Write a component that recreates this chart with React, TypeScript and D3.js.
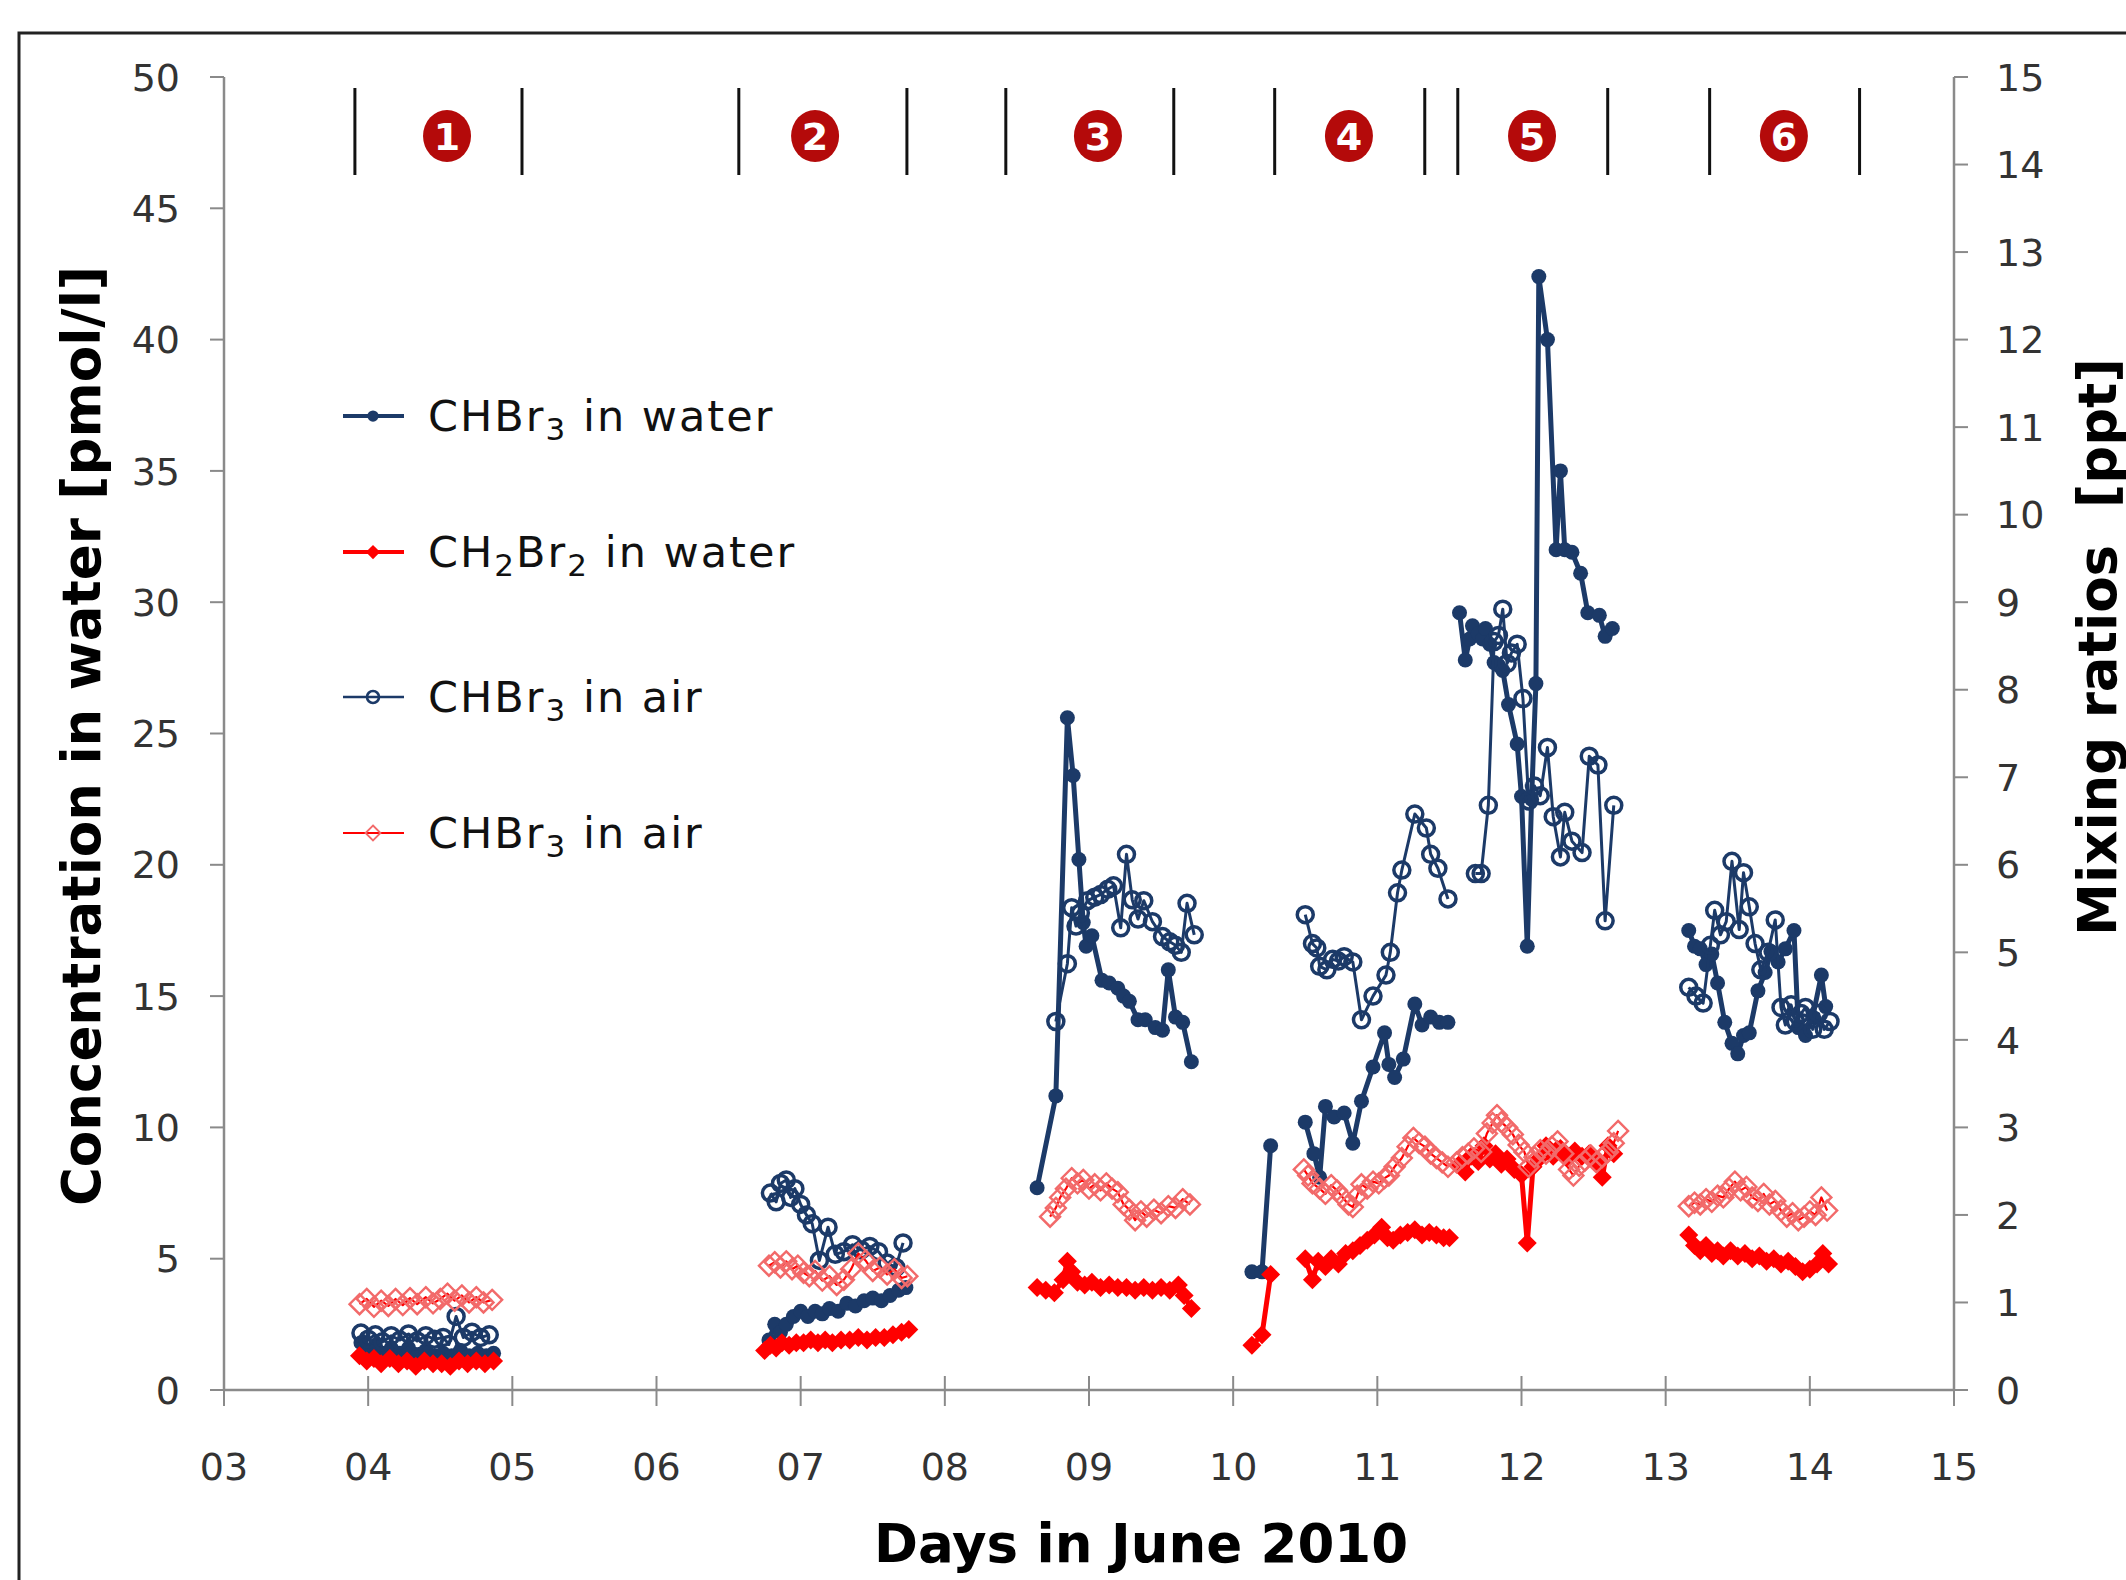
import React from "react";
import * as d3 from "d3";

type Pt = [number, number];

// axis ticks and labels
const xTickLabels = ["03", "04", "05", "06", "07", "08", "09", "10", "11", "12", "13", "14", "15"];
const leftTicks = [0, 5, 10, 15, 20, 25, 30, 35, 40, 45, 50];
const rightTicks = [0, 1, 2, 3, 4, 5, 6, 7, 8, 9, 10, 11, 12, 13, 14, 15];

// measurement periods (day of June) shown at the top
const periodBounds: Pt[] = [
  [3.908, 5.067],
  [6.571, 7.737],
  [8.423, 9.588],
  [10.288, 11.329],
  [11.558, 12.598],
  [13.305, 14.345],
];
const periodBadgeDays = [4.547, 7.1, 9.062, 10.803, 12.073, 13.82];
const periodLabels = ["1", "2", "3", "4", "5", "6"];

// CHBr3 in water [pmol/l] (left axis)
const chbr3Water1: Pt[] = [[3.95,1.8],[4.0,1.5],[4.05,1.7],[4.1,1.4],[4.16,1.6],[4.22,1.4],[4.28,1.6],[4.34,1.3],[4.4,1.5],[4.46,1.3],[4.52,1.4],[4.58,1.3],[4.64,1.5],[4.7,1.3],[4.76,1.4],[4.82,1.3],[4.87,1.4]];
const chbr3Water2: Pt[] = [[6.78,1.9],[6.82,2.5],[6.86,2.2],[6.9,2.5],[6.95,2.8],[7.0,3.0],[7.05,2.8],[7.1,3.0],[7.15,2.9],[7.2,3.1],[7.26,3.0],[7.32,3.3],[7.38,3.2],[7.44,3.4],[7.5,3.5],[7.56,3.4],[7.62,3.6],[7.68,3.8],[7.73,3.9]];
const chbr3Water3: Pt[] = [[8.64,7.7],[8.77,11.2],[8.85,25.6],[8.89,23.4],[8.93,20.2],[8.96,17.8],[8.98,16.9],[9.02,17.3],[9.09,15.6],[9.14,15.5],[9.2,15.3],[9.24,15.0],[9.28,14.8],[9.34,14.1],[9.39,14.1],[9.46,13.8],[9.51,13.7],[9.55,16.0],[9.6,14.2],[9.65,14.0],[9.71,12.5]];
const chbr3Water4a: Pt[] = [[10.13,4.5],[10.2,4.5],[10.26,9.3]];
const chbr3Water4b: Pt[] = [[10.5,10.2],[10.56,9.0],[10.6,8.1],[10.64,10.8],[10.7,10.4],[10.77,10.55],[10.83,9.4],[10.89,11.0],[10.97,12.3],[11.05,13.6],[11.08,12.4],[11.12,11.9],[11.18,12.6],[11.26,14.7],[11.31,13.9],[11.37,14.2],[11.43,14.0],[11.49,14.0]];
const chbr3Water5: Pt[] = [[11.57,29.6],[11.61,27.8],[11.64,28.6],[11.66,29.1],[11.7,28.8],[11.73,28.6],[11.75,29.0],[11.78,28.4],[11.81,27.7],[11.84,27.6],[11.87,27.4],[11.91,26.1],[11.97,24.6],[12.0,22.6],[12.04,16.9],[12.07,22.5],[12.1,26.9],[12.12,42.4],[12.18,40.0],[12.24,32.0],[12.27,35.0],[12.3,32.0],[12.35,31.9],[12.41,31.1],[12.46,29.6],[12.54,29.5],[12.58,28.7],[12.63,29.0]];
const chbr3Water6: Pt[] = [[13.16,17.5],[13.2,16.9],[13.24,16.8],[13.28,16.2],[13.32,16.6],[13.36,15.5],[13.41,14.0],[13.46,13.2],[13.5,12.8],[13.54,13.5],[13.58,13.6],[13.64,15.2],[13.69,15.9],[13.73,16.7],[13.78,16.3],[13.83,16.8],[13.89,17.5],[13.92,13.8],[13.97,13.5],[14.02,14.2],[14.08,15.8],[14.11,14.6]];

// CH2Br2 in water [pmol/l] (left axis)
const ch2br2Water1: Pt[] = [[3.94,1.3],[3.99,1.1],[4.04,1.2],[4.09,1.0],[4.15,1.2],[4.21,1.0],[4.27,1.1],[4.33,0.9],[4.39,1.1],[4.45,1.0],[4.51,1.0],[4.57,0.9],[4.63,1.1],[4.69,1.0],[4.75,1.1],[4.81,1.0],[4.87,1.1]];
const ch2br2Water2: Pt[] = [[6.75,1.5],[6.79,1.7],[6.83,1.6],[6.87,1.8],[6.92,1.7],[6.97,1.8],[7.02,1.8],[7.07,1.9],[7.12,1.8],[7.17,1.9],[7.22,1.8],[7.28,1.9],[7.34,1.9],[7.4,2.0],[7.46,1.9],[7.52,2.0],[7.58,2.0],[7.64,2.1],[7.7,2.2],[7.75,2.3]];
const ch2br2Water3: Pt[] = [[8.64,3.9],[8.7,3.8],[8.76,3.7],[8.82,4.2],[8.85,4.9],[8.88,4.5],[8.92,4.1],[8.97,4.0],[9.02,4.1],[9.08,3.9],[9.14,4.0],[9.2,3.9],[9.26,3.9],[9.32,3.8],[9.38,3.9],[9.44,3.8],[9.5,3.9],[9.56,3.8],[9.62,4.0],[9.66,3.6],[9.71,3.1]];
const ch2br2Water4a: Pt[] = [[10.13,1.7],[10.2,2.1],[10.26,4.4]];
const ch2br2Water4b: Pt[] = [[10.5,5.0],[10.55,4.2],[10.59,4.9],[10.64,4.7],[10.68,5.0],[10.73,4.8],[10.78,5.2],[10.83,5.3],[10.88,5.5],[10.93,5.7],[10.98,5.9],[11.03,6.2],[11.07,5.8],[11.11,5.7],[11.16,5.9],[11.21,6.0],[11.26,6.1],[11.31,5.9],[11.36,6.0],[11.41,5.9],[11.46,5.8],[11.5,5.8]];
const ch2br2Water5: Pt[] = [[11.57,8.6],[11.61,8.3],[11.65,8.9],[11.7,8.7],[11.74,9.3],[11.78,8.8],[11.82,9.0],[11.86,8.6],[11.9,8.8],[11.95,8.4],[12.0,8.2],[12.04,5.6],[12.08,8.5],[12.12,8.8],[12.17,9.3],[12.22,8.9],[12.27,9.2],[12.32,8.8],[12.37,9.1],[12.42,8.9],[12.47,9.0],[12.52,8.7],[12.56,8.1],[12.6,9.3],[12.64,9.0]];
const ch2br2Water6: Pt[] = [[13.16,5.9],[13.2,5.5],[13.24,5.3],[13.28,5.5],[13.32,5.2],[13.36,5.3],[13.4,5.1],[13.45,5.3],[13.5,5.1],[13.55,5.2],[13.6,5.0],[13.65,5.1],[13.7,4.9],[13.75,5.0],[13.8,4.8],[13.85,4.9],[13.9,4.7],[13.95,4.5],[14.0,4.6],[14.05,4.8],[14.09,5.2],[14.13,4.8]];

// CHBr3 in air [ppt] (right axis)
const chbr3Air1: Pt[] = [[3.95,0.65],[4.0,0.58],[4.05,0.63],[4.1,0.55],[4.16,0.62],[4.22,0.57],[4.28,0.64],[4.34,0.56],[4.4,0.62],[4.46,0.58],[4.52,0.6],[4.56,0.52],[4.61,0.84],[4.66,0.6],[4.72,0.66],[4.78,0.6],[4.84,0.63]];
const chbr3Air2: Pt[] = [[6.79,2.25],[6.83,2.15],[6.86,2.36],[6.9,2.4],[6.93,2.2],[6.96,2.3],[7.0,2.12],[7.04,2.0],[7.08,1.9],[7.13,1.48],[7.19,1.86],[7.24,1.55],[7.3,1.58],[7.36,1.66],[7.42,1.6],[7.48,1.64],[7.54,1.58],[7.6,1.45],[7.66,1.4],[7.71,1.68]];
const chbr3Air3: Pt[] = [[8.77,4.21],[8.85,4.87],[8.88,5.51],[8.91,5.3],[8.94,5.45],[8.99,5.59],[9.04,5.63],[9.08,5.66],[9.13,5.72],[9.17,5.76],[9.22,5.28],[9.26,6.12],[9.3,5.6],[9.34,5.38],[9.38,5.59],[9.44,5.35],[9.51,5.18],[9.56,5.12],[9.6,5.08],[9.64,5.0],[9.68,5.56],[9.73,5.2]];
const chbr3Air4: Pt[] = [[10.5,5.43],[10.55,5.1],[10.58,5.05],[10.6,4.84],[10.65,4.8],[10.69,4.92],[10.73,4.9],[10.77,4.95],[10.83,4.89],[10.89,4.23],[10.97,4.5],[11.06,4.74],[11.09,5.0],[11.14,5.68],[11.17,5.94],[11.26,6.58],[11.34,6.42],[11.37,6.12],[11.42,5.96],[11.49,5.61]];
const chbr3Air5: Pt[] = [[11.68,5.9],[11.72,5.9],[11.77,6.68],[11.81,8.55],[11.84,8.62],[11.87,8.92],[11.9,8.3],[11.93,8.42],[11.97,8.52],[12.01,7.9],[12.05,6.73],[12.09,6.9],[12.13,6.79],[12.18,7.34],[12.22,6.55],[12.27,6.09],[12.3,6.6],[12.35,6.27],[12.42,6.14],[12.47,7.24],[12.53,7.14],[12.58,5.36],[12.64,6.68]];
const chbr3Air6: Pt[] = [[13.16,4.6],[13.21,4.5],[13.26,4.42],[13.31,5.08],[13.34,5.48],[13.38,5.2],[13.42,5.35],[13.46,6.04],[13.51,5.26],[13.54,5.91],[13.58,5.52],[13.62,5.1],[13.66,4.8],[13.71,5.0],[13.76,5.37],[13.8,4.37],[13.83,4.17],[13.87,4.4],[13.9,4.21],[13.94,4.3],[13.97,4.37],[14.02,4.12],[14.06,4.3],[14.1,4.12],[14.14,4.21]];

// second air series [ppt] (right axis)
const ch2br2Air1: Pt[] = [[3.94,0.98],[3.99,1.04],[4.04,0.95],[4.09,1.02],[4.14,0.96],[4.19,1.04],[4.24,0.97],[4.29,1.05],[4.34,0.98],[4.4,1.06],[4.45,0.99],[4.5,1.04],[4.55,1.1],[4.6,1.02],[4.65,1.08],[4.7,1.0],[4.75,1.06],[4.8,1.0],[4.86,1.03]];
const ch2br2Air2: Pt[] = [[6.78,1.42],[6.82,1.46],[6.86,1.4],[6.9,1.47],[6.94,1.38],[6.98,1.42],[7.02,1.34],[7.06,1.3],[7.1,1.36],[7.15,1.25],[7.2,1.3],[7.25,1.2],[7.3,1.26],[7.35,1.38],[7.4,1.56],[7.45,1.48],[7.5,1.36],[7.55,1.4],[7.6,1.32],[7.65,1.38],[7.7,1.28],[7.74,1.3]];
const ch2br2Air3: Pt[] = [[8.73,1.98],[8.77,2.08],[8.8,2.2],[8.84,2.3],[8.88,2.42],[8.92,2.36],[8.96,2.4],[9.0,2.3],[9.04,2.35],[9.08,2.28],[9.12,2.36],[9.16,2.3],[9.2,2.26],[9.24,2.12],[9.28,2.06],[9.32,1.94],[9.36,2.04],[9.4,1.98],[9.45,2.06],[9.5,2.02],[9.55,2.1],[9.6,2.08],[9.65,2.18],[9.7,2.12]];
const ch2br2Air4: Pt[] = [[10.49,2.52],[10.52,2.45],[10.55,2.36],[10.6,2.3],[10.64,2.24],[10.68,2.34],[10.72,2.28],[10.76,2.2],[10.8,2.12],[10.83,2.09],[10.86,2.22],[10.89,2.35],[10.93,2.3],[10.97,2.38],[11.01,2.36],[11.05,2.42],[11.08,2.45],[11.12,2.55],[11.17,2.65],[11.21,2.78],[11.25,2.88],[11.29,2.82],[11.33,2.78],[11.37,2.7],[11.41,2.65],[11.45,2.6],[11.49,2.55]];
const ch2br2Air5: Pt[] = [[11.55,2.6],[11.59,2.66],[11.63,2.7],[11.67,2.76],[11.72,2.72],[11.76,2.93],[11.8,3.05],[11.83,3.14],[11.86,3.06],[11.9,3.0],[11.94,2.92],[11.98,2.8],[12.02,2.72],[12.05,2.55],[12.09,2.66],[12.13,2.74],[12.17,2.7],[12.21,2.78],[12.25,2.84],[12.29,2.7],[12.33,2.52],[12.36,2.45],[12.4,2.56],[12.44,2.62],[12.48,2.68],[12.52,2.6],[12.56,2.66],[12.6,2.72],[12.64,2.82],[12.67,2.96]];
const ch2br2Air6: Pt[] = [[13.16,2.1],[13.2,2.14],[13.24,2.12],[13.28,2.18],[13.32,2.15],[13.36,2.22],[13.4,2.2],[13.44,2.3],[13.48,2.38],[13.52,2.28],[13.56,2.32],[13.6,2.2],[13.64,2.16],[13.68,2.24],[13.72,2.12],[13.76,2.16],[13.8,2.05],[13.84,1.98],[13.88,2.02],[13.92,1.94],[13.96,1.98],[14.0,2.04],[14.04,2.0],[14.08,2.2],[14.12,2.05]];

const NAVY = "#1c3a68";
const RED = "#ff0000";
const FONT = "'DejaVu Sans', Verdana, sans-serif";

const W = 2126;
const H = 1580;

const x = d3.scaleLinear().domain([3, 15]).range([224, 1954]);
const yL = d3.scaleLinear().domain([0, 50]).range([1390, 77]);
const yR = d3.scaleLinear().domain([0, 15]).range([1390, 77]);

const diamond = (cx: number, cy: number, h: number) =>
  `M${cx},${cy - h}L${cx + h},${cy}L${cx},${cy + h}L${cx - h},${cy}Z`;

type Series = {
  segments: Pt[][];
  y: d3.ScaleLinear<number, number>;
  color: string;
  lineWidth: number;
  marker: "dot" | "diamond" | "ring" | "openDiamond";
};

const series: Series[] = [
  { segments: [chbr3Water1, chbr3Water2, chbr3Water3, chbr3Water4a, chbr3Water4b, chbr3Water5, chbr3Water6], y: yL, color: NAVY, lineWidth: 5, marker: "dot" },
  { segments: [ch2br2Water1, ch2br2Water2, ch2br2Water3, ch2br2Water4a, ch2br2Water4b, ch2br2Water5, ch2br2Water6], y: yL, color: RED, lineWidth: 5, marker: "diamond" },
  { segments: [chbr3Air1, chbr3Air2, chbr3Air3, chbr3Air4, chbr3Air5, chbr3Air6], y: yR, color: NAVY, lineWidth: 3, marker: "ring" },
  { segments: [ch2br2Air1, ch2br2Air2, ch2br2Air3, ch2br2Air4, ch2br2Air5, ch2br2Air6], y: yR, color: RED, lineWidth: 2.2, marker: "openDiamond" },
];

const Marker = ({ kind, cx, cy, color, k = 1 }: { kind: string; cx: number; cy: number; color: string; k?: number }) => {
  if (kind === "dot") return <circle cx={cx} cy={cy} r={7.5 * k} fill={color} />;
  if (kind === "diamond") return <path d={diamond(cx, cy, 9.5 * k)} fill={color} />;
  if (kind === "ring") return <circle cx={cx} cy={cy} r={8 * k} fill="none" stroke={color} strokeWidth={3.5 * k} />;
  return <path d={diamond(cx, cy, 10 * k)} fill="none" stroke="#f26a6a" strokeWidth={2.4 * k} />;
};

const legendItems = [
  { kind: "dot", color: NAVY, lineWidth: 4, y: 416, main: "CHBr", sub: "3", rest: " in water", mid: null as string | null },
  { kind: "diamond", color: RED, lineWidth: 4, y: 552, main: "CH", sub: "2", rest: " in water", mid: "Br" },
  { kind: "ring", color: NAVY, lineWidth: 2.5, y: 697, main: "CHBr", sub: "3", rest: " in air", mid: null },
  { kind: "openDiamond", color: RED, lineWidth: 2, y: 833, main: "CHBr", sub: "3", rest: " in air", mid: null },
];

export default function App() {
  const line = (yScale: d3.ScaleLinear<number, number>) =>
    d3
      .line<Pt>()
      .x((d) => x(d[0]))
      .y((d) => yScale(d[1]));

  const axisColor = "#8a8a8a";

  return (
    <svg
      width={W}
      height={H}
      style={{ position: "absolute", left: 0, top: 0, background: "#fff" }}
      fontFamily={FONT}
    >
      <rect x={0} y={0} width={W} height={H} fill="#fff" />
      {/* outer frame, cut by the picture edge */}
      <rect x={19} y={33} width={W + 40} height={H + 40} fill="none" stroke="#222" strokeWidth={3} />

      {/* period markers */}
      {periodBounds.map(([a, b], i) => (
        <g key={"p" + i}>
          <line x1={x(a)} x2={x(a)} y1={88} y2={175} stroke="#111" strokeWidth={3} />
          <line x1={x(b)} x2={x(b)} y1={88} y2={175} stroke="#111" strokeWidth={3} />
          <ellipse cx={x(periodBadgeDays[i])} cy={136} rx={24} ry={26} fill="#b40a0a" />
          <text
            x={x(periodBadgeDays[i])}
            y={136}
            dy="0.36em"
            textAnchor="middle"
            fill="#fff"
            fontWeight="bold"
            fontSize={38}
          >
            {periodLabels[i]}
          </text>
        </g>
      ))}

      {/* axes */}
      <line x1={x(3)} x2={x(15)} y1={yL(0)} y2={yL(0)} stroke={axisColor} strokeWidth={2.5} />
      <line x1={x(3)} x2={x(3)} y1={yL(0)} y2={yL(50)} stroke={axisColor} strokeWidth={2.5} />
      <line x1={x(15)} x2={x(15)} y1={yR(0)} y2={yR(15)} stroke={axisColor} strokeWidth={2.5} />

      {xTickLabels.map((lab, i) => (
        <g key={"xt" + i}>
          <line x1={x(3 + i)} x2={x(3 + i)} y1={yL(0) - 14} y2={yL(0) + 16} stroke={axisColor} strokeWidth={2} />
          <text x={x(3 + i)} y={1480} textAnchor="middle" fontSize={38} fill="#333">
            {lab}
          </text>
        </g>
      ))}
      {leftTicks.map((t) => (
        <g key={"yl" + t}>
          <line x1={x(3) - 14} x2={x(3)} y1={yL(t)} y2={yL(t)} stroke={axisColor} strokeWidth={2} />
          <text x={180} y={yL(t)} dy="0.36em" textAnchor="end" fontSize={38} fill="#333">
            {t}
          </text>
        </g>
      ))}
      {rightTicks.map((t) => (
        <g key={"yr" + t}>
          <line x1={x(15)} x2={x(15) + 14} y1={yR(t)} y2={yR(t)} stroke={axisColor} strokeWidth={2} />
          <text x={1996} y={yR(t)} dy="0.36em" textAnchor="start" fontSize={38} fill="#333">
            {t}
          </text>
        </g>
      ))}

      {/* axis titles */}
      <text x={1141} y={1562} textAnchor="middle" fontSize={53} fontWeight="bold" fill="#000">
        Days in June 2010
      </text>
      <text
        transform={`translate(100,736) rotate(-90)`}
        textAnchor="middle"
        fontSize={53}
        fontWeight="bold"
        fill="#000"
      >
        Concentration in water [pmol/l]
      </text>
      <text
        transform={`translate(2116,647) rotate(-90)`}
        textAnchor="middle"
        fontSize={53}
        fontWeight="bold"
        fill="#000"
        style={{ whiteSpace: "pre" }}
      >
        {"Mixing ratios  [ppt]"}
      </text>

      {/* data */}
      {series.map((s, si) => (
        <g key={"s" + si}>
          {s.segments.map((seg, gi) => (
            <path
              key={"l" + gi}
              d={line(s.y)(seg) || ""}
              fill="none"
              stroke={s.color}
              strokeWidth={s.lineWidth}
              strokeLinejoin="round"
            />
          ))}
          {s.segments.flat().map((d, pi) => (
            <Marker key={"m" + pi} kind={s.marker} cx={x(d[0])} cy={s.y(d[1])} color={s.color} />
          ))}
        </g>
      ))}

      {/* legend */}
      {legendItems.map((it, i) => (
        <g key={"lg" + i}>
          <line x1={343} x2={404} y1={it.y} y2={it.y} stroke={it.color} strokeWidth={it.lineWidth} />
          <Marker kind={it.kind} cx={373} cy={it.y} color={it.color} k={0.75} />
          <text
            x={428}
            y={it.y}
            dy="0.36em"
            fontSize={43}
            fill="#111"
            letterSpacing={2}
            style={{ whiteSpace: "pre" }}
          >
            {it.main}
            <tspan dy={9} fontSize={31}>
              {it.sub}
            </tspan>
            {it.mid ? (
              <>
                <tspan dy={-9}>{it.mid}</tspan>
                <tspan dy={9} fontSize={31}>
                  {it.sub}
                </tspan>
              </>
            ) : null}
            <tspan dy={-9}>{it.rest}</tspan>
          </text>
        </g>
      ))}
    </svg>
  );
}
